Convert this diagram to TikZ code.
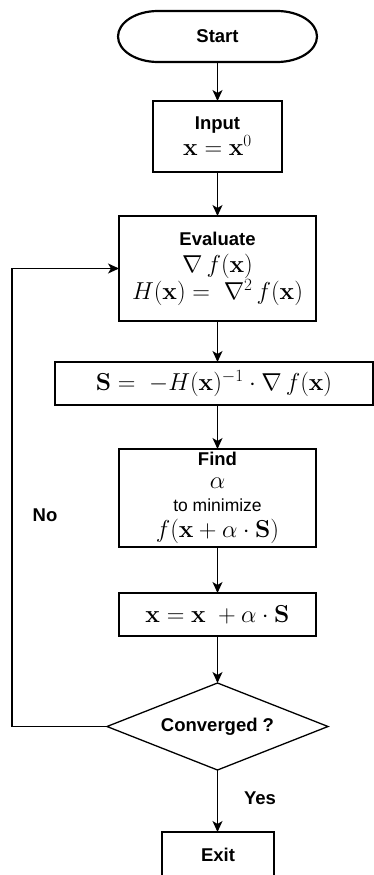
\RequirePackage{fix-cm}
\documentclass[tikz,border=0pt]{standalone}
\usepackage{amsmath,amssymb}
\usepackage[no-math]{fontspec}
\setmainfont{Liberation Sans}
\usetikzlibrary{positioning,arrows.meta,calc,shapes.geometric}

\newcommand{\mth}[1]{{\fontsize{24.5}{26}\selectfont$#1$}}

\begin{document}
\begin{tikzpicture}[
  x=1pt, y=1pt, >={Stealth[length=11pt,width=10pt,inset=3pt]},
  font=\fontsize{18.5}{26}\selectfont\bfseries,
  every node/.style={outer sep=0pt},
  blk/.style={draw, line width=1.3pt, align=center, inner sep=0pt},
  term/.style={align=center, inner sep=0pt, minimum width=199pt, minimum height=51pt},
  dec/.style={draw, diamond, line width=1.3pt, aspect=2.54, minimum width=221pt, minimum height=87pt, inner sep=0pt},
  arr/.style={->, line width=1.3pt},
]
\clip (0,0) rectangle (374,-875);
\node[term] (start) at (217.5,-36.5) {Start};
\draw[line width=2.2pt] ([xshift=40pt]start.north west) -- ([xshift=-40pt]start.north east)
  arc[start angle=90, end angle=-90, x radius=40pt, y radius=25.5pt]
  -- ([xshift=40pt]start.south west)
  arc[start angle=270, end angle=90, x radius=40pt, y radius=25.5pt] -- cycle;
\node[blk, minimum width=129pt, minimum height=71pt] (input) at (217.5,-136.5)
  {Input\\\mth{\mathbf{x}=\mathbf{x}^0}};
\node[blk, minimum width=197pt, minimum height=105pt, font=\fontsize{18.5}{27}\selectfont\bfseries] (eval) at (217.5,-268.5)
  {Evaluate\\\mth{\nabla\,f(\mathbf{x})}\\\mth{H(\mathbf{x})=\ \nabla^2\,f(\mathbf{x})}};
\node[blk, minimum width=318pt, minimum height=43pt] (sdir) at (214,-383.5)
  {\mth{\mathbf{S}=\ -H(\mathbf{x})^{-1}\cdot\nabla\,f(\mathbf{x})}};
\node[blk, minimum width=197pt, minimum height=98pt, font=\fontsize{18.5}{23}\selectfont\bfseries] (find) at (217.5,-498)
  {Find\\\mth{\alpha}\\{\mdseries\fontsize{17.5}{23}\selectfont to minimize}\\[3pt]\mth{f(\mathbf{x}+\alpha\cdot\mathbf{S})}};
\node[blk, minimum width=197pt, minimum height=43pt] (upd) at (217.5,-614.5)
  {\mth{\mathbf{x}=\mathbf{x}\ +\alpha\cdot\mathbf{S}}};
\node[dec] (conv) at (217.5,-726.5) {Converged ?};
\node[blk, minimum width=112pt, minimum height=46pt] (exit) at (218,-855) {Exit};
\coordinate (back) at (12,-500);
\node (no) at (45,-515) {No};
\node (yes) at (260,-798) {Yes};

\draw[arr] (start) -- (input);
\draw[arr] (input) -- (eval);
\draw[arr] (eval.south) -- (eval.south |- sdir.north);
\draw[arr] (find.north |- sdir.south) -- (find.north);
\draw[arr] (find) -- (upd);
\draw[arr] (upd) -- (conv);
\draw[arr] (conv.south) -- (conv.south |- exit.north);
\draw[arr] (conv.west) -- (conv.west -| back) |- (eval.west);
\end{tikzpicture}
\end{document}
